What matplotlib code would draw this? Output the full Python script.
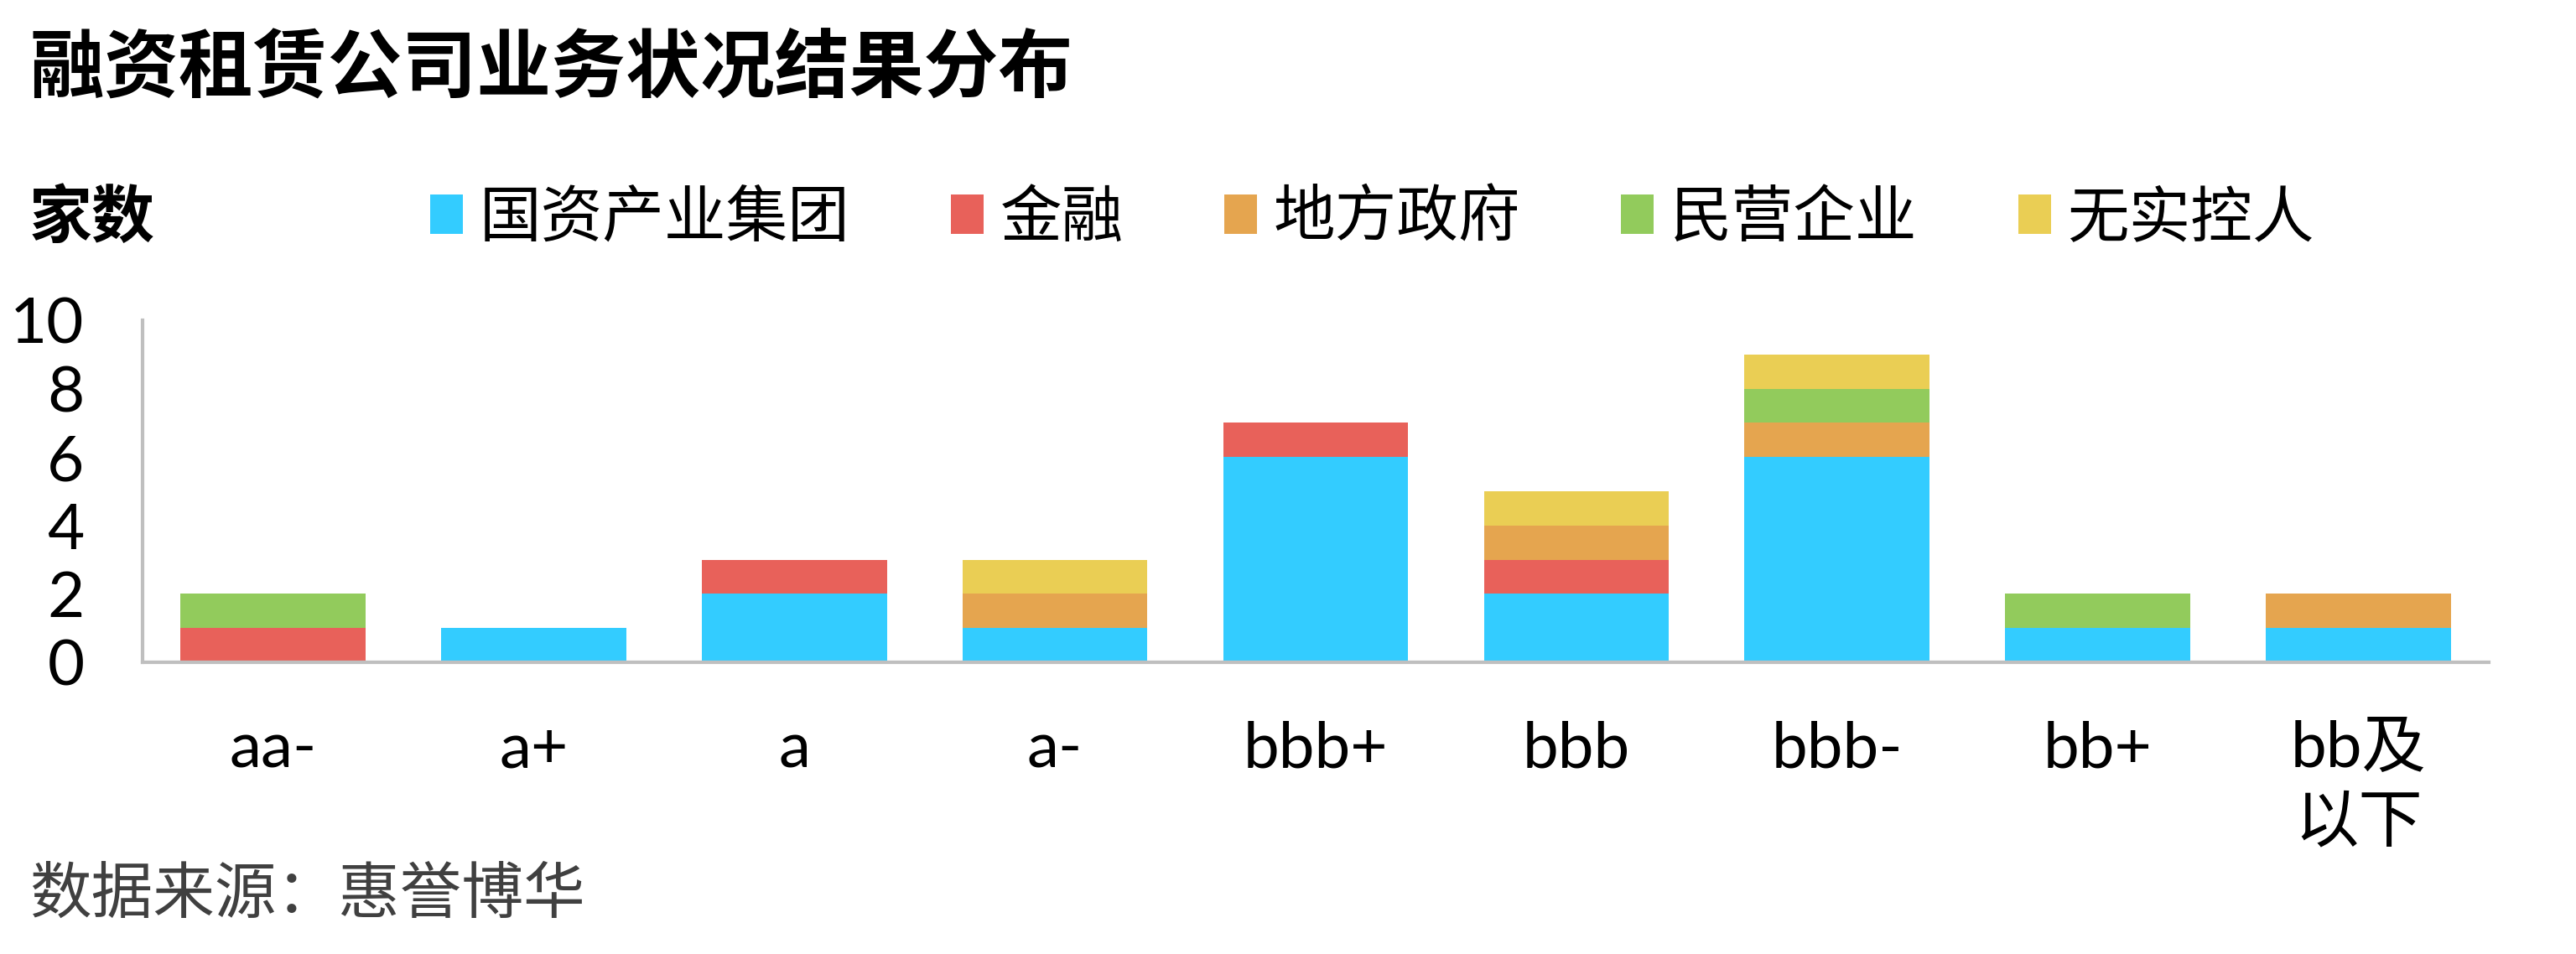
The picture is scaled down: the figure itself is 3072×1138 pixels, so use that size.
import matplotlib
matplotlib.use("Agg")
import matplotlib.pyplot as plt
import numpy as np

# ratings (x categories)
ratings = ["aa-", "a+", "a", "a-", "bbb+", "bbb", "bbb-", "bb+", "bb及\n以下"]

# counts per owner type, stacked in this order
state_group = [0, 1, 2, 1, 6, 2, 6, 1, 1]    # 国资产业集团
finance = [1, 0, 1, 0, 1, 1, 0, 0, 0]        # 金融
local_gov = [0, 0, 0, 1, 0, 1, 1, 0, 1]      # 地方政府
private = [1, 0, 0, 0, 0, 0, 1, 1, 0]        # 民营企业
no_control = [0, 0, 0, 1, 0, 1, 1, 0, 0]     # 无实控人

series_names = ["国资产业集团", "金融", "地方政府", "民营企业", "无实控人"]
series_vals = [state_group, finance, local_gov, private, no_control]
colors = ["#33CCFF", "#E8615A", "#E5A54F", "#92CB5C", "#EACE54"]

yticks = [0, 2, 4, 6, 8, 10]

CJK = ["Noto Sans CJK SC", "DejaVu Sans"]
LAT = ["Lato", "Noto Sans CJK SC"]
plt.rcParams["font.family"] = CJK

W, H = 3072, 1138
fig = plt.figure(figsize=(W / 100, H / 100), dpi=100)
ax = fig.add_axes([170 / W, 1 - 790 / H, (2968 - 170) / W, (790 - 382) / H])

x = np.arange(len(ratings))
bottom = np.zeros(len(ratings))
handles = []
for name, vals, c in zip(series_names, series_vals, colors):
    b = ax.bar(x, vals, width=0.71, bottom=bottom, color=c, label=name, linewidth=0)
    handles.append(b)
    bottom += np.array(vals)

ax.set_xlim(-0.5, len(ratings) - 0.5)
ax.set_ylim(0, 10)
ax.set_yticks(yticks)
ax.set_xticks(x)
ax.set_xticklabels(ratings, family=LAT, fontsize=55, linespacing=1.34, va="top")
ax.set_yticklabels([str(v) for v in yticks], family=LAT, fontsize=55)
ax.tick_params(axis="both", length=0)
ax.tick_params(axis="y", pad=50)
ax.tick_params(axis="x", pad=50)

for s in ["top", "right"]:
    ax.spines[s].set_visible(False)
for s in ["left", "bottom"]:
    ax.spines[s].set_color("#BFBFBF")
    ax.spines[s].set_linewidth(3)

# title and labels
fig.text(35 / W, 1 - 82 / H, "融资租赁公司业务状况结果分布", fontsize=64,
         fontweight="bold", va="center", ha="left")
fig.text(35 / W, 1 - 261 / H, "家数", fontsize=54, fontweight="bold",
         va="center", ha="left")
fig.text(35 / W, 1 - 1068 / H, "数据来源：惠誉博华", fontsize=53,
         color="#404040", va="center", ha="left")

fig.legend(handles=handles, labels=series_names, loc="center left",
           bbox_to_anchor=(513 / W, 1 - 261 / H), ncol=5, frameon=False,
           fontsize=53, handlelength=0.53, handleheight=0.61,
           handletextpad=0.27, columnspacing=1.63, borderpad=0,
           borderaxespad=0)

fig.savefig("out.png", dpi=100)
